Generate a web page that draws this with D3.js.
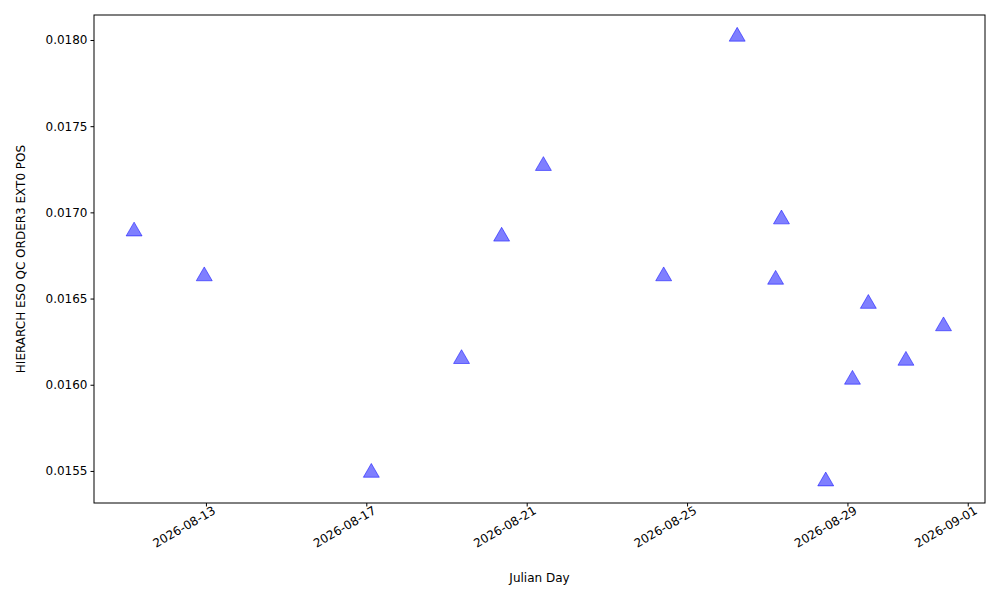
<!DOCTYPE html>
<html><head><meta charset="utf-8">
<script src="https://cdn.jsdelivr.net/npm/d3@7"></script>
<style>body{margin:0;background:#fff}text{font-family:"DejaVu Sans",sans-serif}</style>
</head><body><svg id="c" width="1000" height="600"></svg>
<script>
const dates = ["2026-08-11T05:00","2026-08-12T23:00","2026-08-17T03:00","2026-08-19T09:00","2026-08-20T09:00","2026-08-21T10:00","2026-08-24T10:00","2026-08-26T06:00","2026-08-27T05:00","2026-08-27T08:30","2026-08-28T11:00","2026-08-29T03:00","2026-08-29T12:30","2026-08-30T11:00","2026-08-31T09:30"];
const values = [0.01689,0.01663,0.01549,0.01615,0.01686,0.01727,0.01663,0.01802,0.01661,0.01696,0.01544,0.01603,0.01647,0.01614,0.01634];
const xTicks = ["2026-08-13","2026-08-17","2026-08-21","2026-08-25","2026-08-29","2026-09-01"];
const yTicks = [0.0155,0.0160,0.0165,0.0170,0.0175,0.0180];

const svg = d3.select("#c");
const L=94,R=985,T=15,B=503;
const pd = s => new Date(s+"Z");
const x = d3.scaleUtc().domain([pd("2026-08-10T05:00"), pd("2026-09-01T10:20")]).range([L,R]);
const y = d3.scaleLinear().domain([0.015314,0.018145]).range([B,T]);

const xa = svg.append("g").attr("transform",`translate(0,${B})`)
  .call(d3.axisBottom(x).tickValues(xTicks.map(t=>pd(t+"T00:00"))).tickFormat(d3.utcFormat("%Y-%m-%d")).tickSizeOuter(0).tickSize(3.5));
xa.selectAll("text").attr("font-size",12).attr("text-anchor","end").attr("dx","0.3em").attr("dy","0.6em").attr("transform","rotate(-30)").attr("fill","#000");
const ya = svg.append("g").attr("transform",`translate(${L},0)`)
  .call(d3.axisLeft(y).tickValues(yTicks).tickFormat(d3.format(".4f")).tickSizeOuter(0).tickSize(3.5));
ya.selectAll("text").attr("font-size",12).attr("fill","#000");
svg.selectAll(".domain").remove();
svg.append("rect").attr("x",L).attr("y",T).attr("width",R-L).attr("height",B-T).attr("fill","none").attr("stroke","#000");

const tri = d3.symbol().type(d3.symbolTriangle).size(110);
svg.selectAll("path.pt").data(dates).join("path").attr("class","pt")
  .attr("d",tri).attr("transform",(d,i)=>`translate(${x(pd(d))},${y(values[i])})`)
  .attr("fill","rgba(0,0,255,0.5)").attr("stroke","rgba(0,0,255,0.5)").attr("stroke-width",1);

svg.append("text").attr("x",(L+R)/2).attr("y",582).attr("text-anchor","middle").attr("font-size",12).text("Julian Day");
svg.append("text").attr("transform",`translate(25,${(T+B)/2}) rotate(-90)`).attr("text-anchor","middle").attr("font-size",12).text("HIERARCH ESO QC ORDER3 EXT0 POS");
</script></body></html>
